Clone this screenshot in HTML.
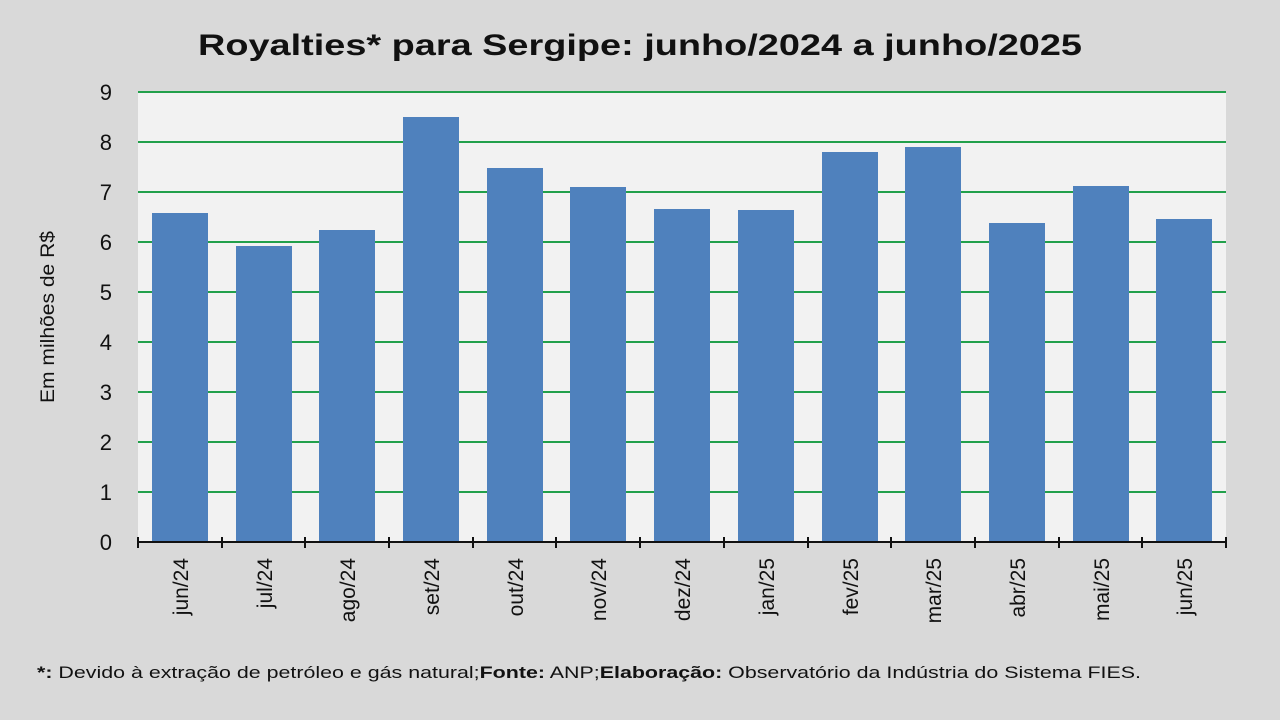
<!DOCTYPE html>
<html><head><meta charset="utf-8"><style>
html,body{margin:0;padding:0;background:#d9d9d9;}
svg{display:block;font-family:"Liberation Sans",sans-serif;}
</style></head><body>
<svg width="1280" height="720" viewBox="0 0 1280 720">
<rect width="1280" height="720" fill="#d9d9d9"/>
<rect x="138" y="92" width="1088" height="450" fill="#f2f2f2"/>
<text x="198" y="55" font-size="30" font-weight="bold" fill="#111" textLength="884" lengthAdjust="spacingAndGlyphs">Royalties* para Sergipe: junho/2024 a junho/2025</text>
<g stroke="#22a04b" stroke-width="2">
<line x1="138" x2="1226" y1="92" y2="92"/><line x1="138" x2="1226" y1="142" y2="142"/>
<line x1="138" x2="1226" y1="192" y2="192"/><line x1="138" x2="1226" y1="242" y2="242"/>
<line x1="138" x2="1226" y1="292" y2="292"/><line x1="138" x2="1226" y1="342" y2="342"/>
<line x1="138" x2="1226" y1="392" y2="392"/><line x1="138" x2="1226" y1="442" y2="442"/>
<line x1="138" x2="1226" y1="492" y2="492"/>
</g>
<g font-size="22" fill="#111" text-anchor="end">
<text x="112" y="100">9</text><text x="112" y="150">8</text><text x="112" y="200">7</text>
<text x="112" y="250">6</text><text x="112" y="300">5</text><text x="112" y="350">4</text>
<text x="112" y="400">3</text><text x="112" y="450">2</text><text x="112" y="500">1</text>
<text x="112" y="550">0</text>
</g>
<text transform="translate(54,317) rotate(-90)" font-size="19" text-anchor="middle" fill="#111" textLength="172" lengthAdjust="spacingAndGlyphs">Em milhões de R$</text>
<g fill="#4f81bd">
<rect x="152" y="213" width="56" height="329"/>
<rect x="236" y="246" width="56" height="296"/>
<rect x="319" y="230" width="56" height="312"/>
<rect x="403" y="117" width="56" height="425"/>
<rect x="487" y="168" width="56" height="374"/>
<rect x="570" y="187" width="56" height="355"/>
<rect x="654" y="209" width="56" height="333"/>
<rect x="738" y="210" width="56" height="332"/>
<rect x="822" y="152" width="56" height="390"/>
<rect x="905" y="147" width="56" height="395"/>
<rect x="989" y="223" width="56" height="319"/>
<rect x="1073" y="186" width="56" height="356"/>
<rect x="1156" y="219" width="56" height="323"/>
</g>
<g stroke="#111" stroke-width="2">
<line x1="137" x2="1227" y1="542" y2="542"/>
<line x1="138" x2="138" y1="537" y2="548"/><line x1="222" x2="222" y1="537" y2="548"/>
<line x1="305" x2="305" y1="537" y2="548"/><line x1="389" x2="389" y1="537" y2="548"/>
<line x1="473" x2="473" y1="537" y2="548"/><line x1="556" x2="556" y1="537" y2="548"/>
<line x1="640" x2="640" y1="537" y2="548"/><line x1="724" x2="724" y1="537" y2="548"/>
<line x1="808" x2="808" y1="537" y2="548"/><line x1="891" x2="891" y1="537" y2="548"/>
<line x1="975" x2="975" y1="537" y2="548"/><line x1="1059" x2="1059" y1="537" y2="548"/>
<line x1="1142" x2="1142" y1="537" y2="548"/><line x1="1226" x2="1226" y1="537" y2="548"/>
</g>
<g font-size="21" fill="#111" text-anchor="end">
<text transform="translate(188,558) rotate(-90)">jun/24</text>
<text transform="translate(272,558) rotate(-90)">jul/24</text>
<text transform="translate(355,558) rotate(-90)">ago/24</text>
<text transform="translate(439,558) rotate(-90)">set/24</text>
<text transform="translate(523,558) rotate(-90)">out/24</text>
<text transform="translate(606,558) rotate(-90)">nov/24</text>
<text transform="translate(690,558) rotate(-90)">dez/24</text>
<text transform="translate(774,558) rotate(-90)">jan/25</text>
<text transform="translate(858,558) rotate(-90)">fev/25</text>
<text transform="translate(941,558) rotate(-90)">mar/25</text>
<text transform="translate(1025,558) rotate(-90)">abr/25</text>
<text transform="translate(1109,558) rotate(-90)">mai/25</text>
<text transform="translate(1192,558) rotate(-90)">jun/25</text>
</g>
<text x="37" y="678" font-size="17" fill="#111" textLength="1104" lengthAdjust="spacingAndGlyphs"><tspan font-weight="bold">*:</tspan> Devido à extração de petróleo e gás natural;<tspan font-weight="bold">Fonte:</tspan> ANP;<tspan font-weight="bold">Elaboração:</tspan> Observatório da Indústria do Sistema FIES.</text>
</svg>
</body></html>
